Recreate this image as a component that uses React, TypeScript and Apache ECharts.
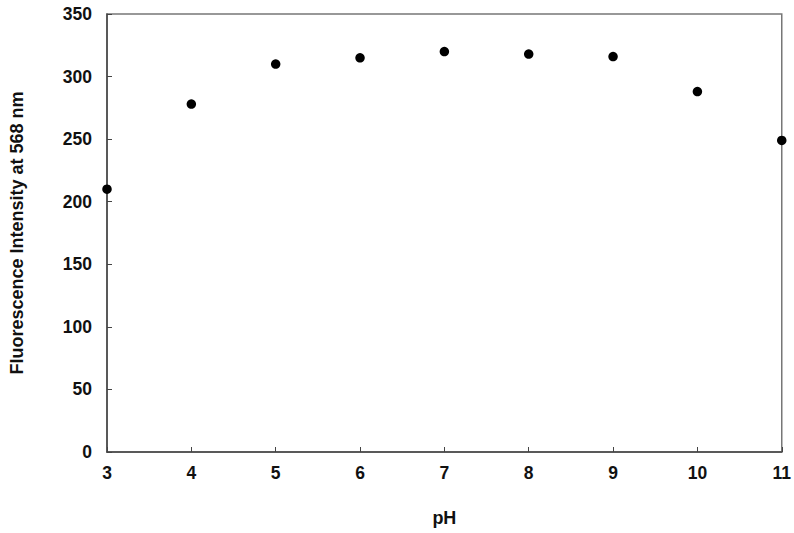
import React, { useEffect, useRef } from "react";
import * as echarts from "echarts";

const phValues = [3, 4, 5, 6, 7, 8, 9, 10, 11];
const intensity = [210, 278, 310, 315, 320, 318, 316, 288, 249];
const xTitle = "pH";
const yTitle = "Fluorescence Intensity at 568 nm";

export default function App() {
  const ref = useRef<HTMLDivElement>(null);
  useEffect(() => {
    if (!ref.current) return;
    const chart = echarts.init(ref.current, undefined, { renderer: "svg" });
    const font = "Liberation Sans, Arial, sans-serif";
    chart.setOption({
      animation: false,
      backgroundColor: "#ffffff",
      grid: { left: 107, right: 12, top: 14, bottom: 81, show: true, borderColor: "#777", borderWidth: 1.5, backgroundColor: "transparent" },
      xAxis: {
        type: "value",
        min: 3,
        max: 11,
        interval: 1,
        name: xTitle,
        nameLocation: "middle",
        nameGap: 57,
        nameTextStyle: { fontFamily: font, fontWeight: "bold", fontSize: 18, color: "#111" },
        axisLine: { onZero: false, lineStyle: { color: "#444", width: 1.5 } },
        axisTick: { inside: true, length: 5, lineStyle: { color: "#444" } },
        axisLabel: { fontFamily: font, fontWeight: "bold", fontSize: 17.5, color: "#111", margin: 12 },
        splitLine: { show: false },
      },
      yAxis: {
        type: "value",
        min: 0,
        max: 350,
        interval: 50,
        name: yTitle,
        nameLocation: "middle",
        nameGap: 81,
        nameTextStyle: { fontFamily: font, fontWeight: "bold", fontSize: 18, color: "#111" },
        axisLine: { show: true, lineStyle: { color: "#444", width: 1.5 } },
        axisTick: { show: true, inside: true, length: 5, lineStyle: { color: "#444" } },
        axisLabel: { fontFamily: font, fontWeight: "bold", fontSize: 17.5, color: "#111", margin: 15 },
        splitLine: { show: false },
      },
      series: [
        {
          type: "scatter",
          data: phValues.map((x, i) => [x, intensity[i]]),
          symbol: "circle",
          symbolSize: 9.5,
          itemStyle: { color: "#000", opacity: 1 },
        },
      ],
    });
    return () => chart.dispose();
  }, []);
  return <div ref={ref} style={{ width: 794, height: 533, position: "absolute", left: 0, top: 0 }} />;
}
